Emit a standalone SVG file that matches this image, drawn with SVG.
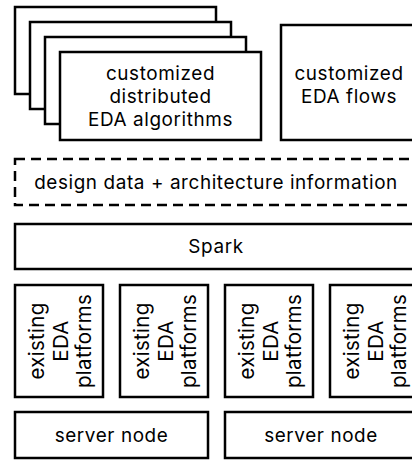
<svg xmlns="http://www.w3.org/2000/svg" width="412" height="460" viewBox="0 0 412 460">
<style>
.b{fill:#fff;stroke:#000;stroke-width:2.5}
.d{fill:none;stroke:#000;stroke-width:2.5;stroke-dasharray:10 6}
text{font-family:Inter,"Open Sans","DejaVu Sans",sans-serif;font-size:18.9px;fill:#000;text-anchor:middle;letter-spacing:0.6px}
.v{font-size:20.5px;letter-spacing:0.3px}
</style>
<rect width="412" height="460" fill="#fff"/>
<g id="algorithms">
<rect class="b" x="15" y="7" width="201" height="87"/>
<rect class="b" x="30" y="22" width="201" height="87"/>
<rect class="b" x="45" y="37" width="201" height="87"/>
<rect class="b" x="60" y="52" width="201" height="88"/>
<text x="160.5" y="80">customized<tspan x="160.5" dy="23">distributed</tspan><tspan x="160.5" dy="23">EDA algorithms</tspan></text>
</g>
<g id="flows">
<rect class="b" x="281" y="25" width="140" height="115"/>
<text x="349" y="80">customized<tspan x="349" dy="23">EDA flows</tspan></text>
</g>
<g id="design-data">
<rect class="d" x="15" y="159" width="405" height="46"/>
<text x="216" y="189">design data + architecture information</text>
</g>
<g id="spark">
<rect class="b" x="15" y="224" width="405" height="45"/>
<text x="216" y="253">Spark</text>
</g>
<g id="eda1">
<rect class="b" x="15" y="285" width="88" height="112"/>
<text class="v" transform="translate(59,341) rotate(-90)" x="0" y="-15">existing<tspan x="0" dy="24">EDA</tspan><tspan x="0" dy="23">platforms</tspan></text>
</g>
<g id="eda2">
<rect class="b" x="120" y="285" width="88" height="112"/>
<text class="v" transform="translate(164,341) rotate(-90)" x="0" y="-15">existing<tspan x="0" dy="24">EDA</tspan><tspan x="0" dy="23">platforms</tspan></text>
</g>
<g id="eda3">
<rect class="b" x="225" y="285" width="88" height="112"/>
<text class="v" transform="translate(269,341) rotate(-90)" x="0" y="-15">existing<tspan x="0" dy="24">EDA</tspan><tspan x="0" dy="23">platforms</tspan></text>
</g>
<g id="eda4">
<rect class="b" x="330" y="285" width="88" height="112"/>
<text class="v" transform="translate(374,341) rotate(-90)" x="0" y="-15">existing<tspan x="0" dy="24">EDA</tspan><tspan x="0" dy="23">platforms</tspan></text>
</g>
<g id="server1">
<rect class="b" x="15" y="412" width="193" height="46"/>
<text x="111.5" y="442">server node</text>
</g>
<g id="server2">
<rect class="b" x="225" y="412" width="193" height="46"/>
<text x="321" y="442">server node</text>
</g>
<g id="connectors"></g>
</svg>
